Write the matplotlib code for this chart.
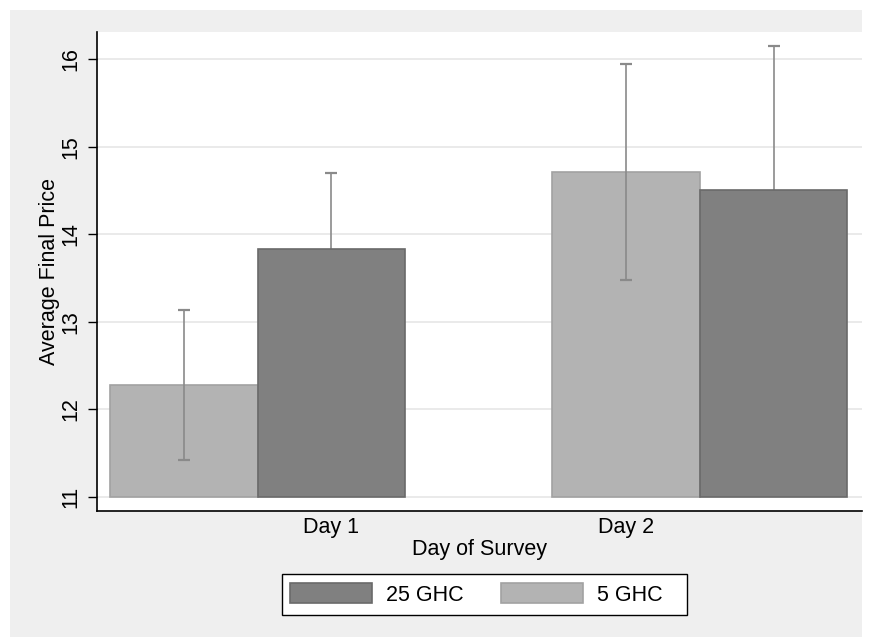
import numpy as np
import matplotlib
matplotlib.use("Agg")
import matplotlib.pyplot as plt
from matplotlib.patches import Rectangle, Patch

plt.rcParams["font.family"] = ["Liberation Sans", "DejaVu Sans"]

# Data
days = ["Day 1", "Day 2"]
price_5ghc = [12.28, 14.71]
err_5ghc = [0.86, 1.23]
price_25ghc = [13.835, 14.51]
err_25ghc = [0.87, 1.64]
y_ticks = [11, 12, 13, 14, 15, 16]
BASE = 11

W, H = 872, 638
FS = 15.5
fig = plt.figure(figsize=(W / 100, H / 100), dpi=100, facecolor="white")

# Stata-like gray graph region
fig.patches.append(
    Rectangle((10 / W, 1 - 637 / H), 852 / W, 627 / H, transform=fig.transFigure,
              facecolor="#efefef", edgecolor="none", zorder=-10)
)
# legend box (Stata leaves extra room on the right)
fig.patches.append(
    Rectangle((282 / W, 1 - 615 / H), 405 / W, 41 / H, transform=fig.transFigure,
              facecolor="white", edgecolor="black", linewidth=1.0, zorder=-5)
)

ax = fig.add_axes([97 / W, 1 - 511 / H, 765 / W, 479 / H])
ax.set_facecolor("white")

light_x = np.arange(len(days)) * 3 + 1
dark_x = light_x + 1

light_col, light_edge = "#b3b3b3", "#a2a2a2"
dark_col, dark_edge = "#808080", "#6a6a6a"
err_col = "#8a8a8a"

ax.bar(light_x, np.array(price_5ghc) - BASE, bottom=BASE, width=1.0,
       color=light_col, edgecolor=light_edge, linewidth=1.2, zorder=2)
ax.errorbar(light_x, price_5ghc, yerr=err_5ghc, fmt="none", ecolor=err_col,
            elinewidth=1.2, capsize=4, capthick=1.6, zorder=3)
ax.errorbar(dark_x, price_25ghc, yerr=err_25ghc, fmt="none", ecolor=err_col,
            elinewidth=1.2, capsize=4, capthick=1.6, zorder=3)
ax.bar(dark_x, np.array(price_25ghc) - BASE, bottom=BASE, width=1.0,
       color=dark_col, edgecolor=dark_edge, linewidth=1.2, zorder=4)

ax.set_xlim(0.41, 5.6)
ax.set_ylim(10.84, 16.31)

ax.set_yticks(y_ticks)
ax.set_yticklabels([str(t) for t in y_ticks], rotation=90, va="center", fontsize=FS)
ax.tick_params(axis="y", length=6.5, width=1, pad=5)
ax.set_xticks([dark_x[0], light_x[1]])
ax.set_xticklabels(days, fontsize=FS)
ax.tick_params(axis="x", length=0, pad=4)

ax.grid(axis="y", color="#eaeaea", linewidth=1.4, zorder=1)
ax.set_axisbelow(True)

for s in ["top", "right"]:
    ax.spines[s].set_visible(False)
for s in ["left", "bottom"]:
    ax.spines[s].set_linewidth(1.2)
    ax.spines[s].set_color("black")

ax.set_xlabel("Day of Survey", fontsize=FS, labelpad=1)
ax.set_ylabel("Average Final Price", fontsize=FS, labelpad=0)

handles = [Patch(facecolor=dark_col, edgecolor=dark_edge, linewidth=1.2),
           Patch(facecolor=light_col, edgecolor=light_edge, linewidth=1.2)]
leg = fig.legend(handles, ["25 GHC", "5 GHC"], loc="center left",
                 bbox_to_anchor=(290 / W, 1 - 594.5 / H), ncol=2,
                 fontsize=FS, frameon=False, borderpad=0, borderaxespad=0,
                 handlelength=3.8, handleheight=1.0, handletextpad=0.65,
                 columnspacing=1.75)

fig.savefig("out.png", dpi=100, facecolor="white")
